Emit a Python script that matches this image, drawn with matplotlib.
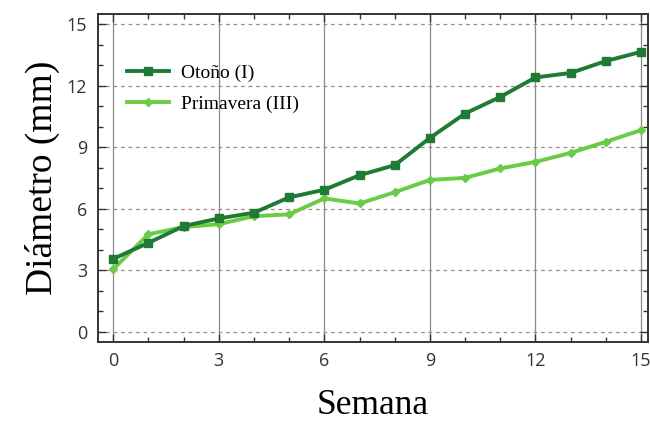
import matplotlib
matplotlib.use("Agg")
import matplotlib.pyplot as plt
from matplotlib.ticker import MultipleLocator

semanas = list(range(16))
otono = [3.55, 4.33, 5.15, 5.52, 5.8, 6.55, 6.92, 7.63, 8.12, 9.45,
         10.64, 11.45, 12.4, 12.62, 13.2, 13.65]
primavera = [3.05, 4.75, 5.1, 5.24, 5.63, 5.72, 6.5, 6.25, 6.8, 7.4,
             7.5, 7.96, 8.28, 8.72, 9.26, 9.83]
xticks = [0, 3, 6, 9, 12, 15]
yticks = [0, 3, 6, 9, 12, 15]

DARK = "#1f7a34"
LIGHT = "#6acb46"

fig = plt.figure(figsize=(6.5, 4.22), dpi=100)
ax = fig.add_axes([0.151, 0.19, 0.846, 0.777])

ax.plot(semanas, otono, color=DARK, lw=2.8, marker="s", ms=6,
        label="Otoño (I)", zorder=4)
ax.plot(semanas, primavera, color=LIGHT, lw=2.8, marker="D", ms=4.5,
        label="Primavera (III)", zorder=3)

ax.set_xlim(-0.43, 15.2)
ax.set_ylim(-0.5, 15.5)
ax.set_xticks(xticks)
ax.set_yticks(yticks)
ax.xaxis.set_minor_locator(MultipleLocator(1))
ax.yaxis.set_minor_locator(MultipleLocator(1))

ax.xaxis.grid(True, color="#8a8a8a", lw=0.9, ls="-")
ax.yaxis.grid(True, color="#a08a80", lw=0.9, ls=(0, (3, 3)))
ax.set_axisbelow(True)

ax.tick_params(which="both", direction="in", top=True, right=True,
               colors="#333333", labelsize=13)
ax.tick_params(which="major", length=6, width=1)
ax.tick_params(which="minor", length=3.5, width=1)
ax.tick_params(axis="x", pad=7)
ax.tick_params(axis="y", pad=8)
for lab in ax.get_xticklabels() + ax.get_yticklabels():
    lab.set_fontfamily("Open Sans")
    lab.set_color("#333333")
for s in ax.spines.values():
    s.set_color("#333333")
    s.set_linewidth(1.4)

ax.set_xlabel("Semana", family="Liberation Serif", fontsize=25.5, labelpad=14)
ax.set_ylabel("Diámetro (mm)", family="Liberation Serif", fontsize=27,
              labelpad=5)

ax.legend(loc="upper left", bbox_to_anchor=(0.02, 0.9), frameon=False,
          prop={"family": "Liberation Serif", "size": 14},
          handlelength=2.2, handletextpad=0.6, labelspacing=0.7)

fig.savefig("out.png", dpi=100)
